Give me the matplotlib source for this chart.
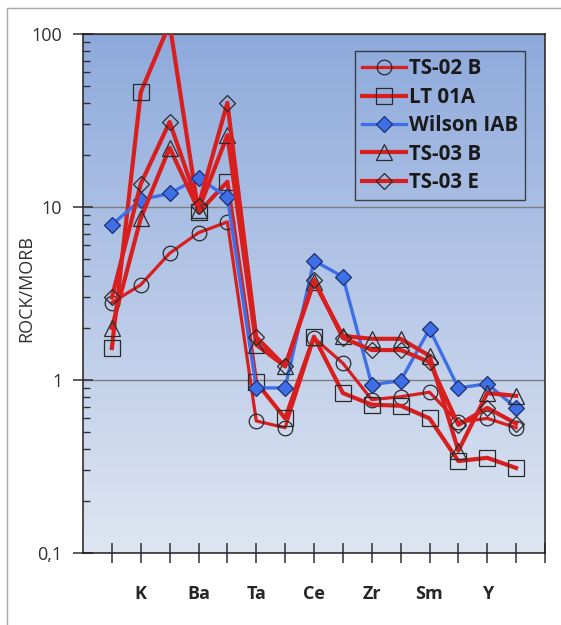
import numpy as np
import matplotlib
matplotlib.use('Agg')
import matplotlib.pyplot as plt
import matplotlib.patches as patches
from matplotlib.colors import LinearSegmentedColormap
from matplotlib.ticker import FixedLocator, LogLocator, NullFormatter

plt.rcParams['font.family'] = ['Open Sans', 'DejaVu Sans']

# MORB-normalised trace elements (Pearce order)
elements = ['Sr', 'K', 'Rb', 'Ba', 'Th', 'Ta', 'Nb', 'Ce', 'P', 'Zr', 'Hf', 'Sm', 'Ti', 'Y', 'Yb']

ts02b = [2.8, 3.55, 5.4, 7.1, 8.2, 0.58, 0.53, 1.75, 1.25, 0.77, 0.80, 0.85, 0.57, 0.60, 0.53]
lt01a = [1.53, 46, 115, 9.3, 14.0, 0.97, 0.60, 1.78, 0.84, 0.72, 0.71, 0.60, 0.34, 0.355, 0.31]
wilson = [7.9, 11.0, 12.0, 14.7, 11.4, 0.90, 0.90, 4.9, 3.95, 0.94, 0.99, 1.97, 0.90, 0.95, 0.69]
ts03b = [2.0, 8.6, 22, 9.6, 26, 1.6, 1.2, 3.7, 1.8, 1.73, 1.73, 1.38, 0.39, 0.84, 0.81]
ts03e = [3.0, 13.6, 31, 10.2, 40, 1.77, 1.2, 3.8, 1.75, 1.49, 1.49, 1.27, 0.55, 0.69, 0.56]

ytick_vals = [0.1, 1, 10, 100]
ytick_labels = ['0,1', '1', '10', '100']

red = '#d91e1e'
blue = '#3f6fe6'
edge = '#2a2a2a'

fig = plt.figure(figsize=(5.61, 6.25), dpi=100)
ax = fig.add_axes([83/561, 1-553/625, 462/561, 519/625])

# outer chart frame
fig.patches.append(patches.Rectangle((7/561, -0.1), 1.2, 1.1 - 8/625, transform=fig.transFigure,
                                     fill=False, ec='#a8a8a8', lw=1.0))

# gradient plot area
cmap = LinearSegmentedColormap.from_list('bg', ['#dfe6f2', '#8eaadc'])
grad = np.linspace(0, 1, 256).reshape(-1, 1)
ax.imshow(grad, extent=[0, 1, 0, 1], transform=ax.transAxes, origin='lower',
          aspect='auto', cmap=cmap, zorder=0)

x = np.arange(1, len(elements) + 1)

ax.plot(x, ts02b, color=red, lw=2.3, marker='o', ms=10.5, mfc='none', mec=edge, mew=0.9,
        label='TS-02 B', zorder=3)
ax.plot(x, lt01a, color=red, lw=3, marker='s', ms=11, mfc='none', mec=edge, mew=0.9,
        label='LT 01A', zorder=3)
ax.plot(x, wilson, color=blue, lw=2.4, marker='D', ms=8.3, mfc=blue, mec='#1c2f6e', mew=0.9,
        label='Wilson IAB', zorder=3)
ax.plot(x, ts03b, color=red, lw=3, marker='^', ms=11, mfc='none', mec=edge, mew=0.9,
        label='TS-03 B', zorder=3)
ax.plot(x, ts03e, color=red, lw=3, marker='D', ms=8.3, mfc='none', mec=edge, mew=0.9,
        label='TS-03 E', zorder=3)

ax.set_yscale('log')
ax.set_ylim(0.1, 100)
ax.set_xlim(0, len(elements) + 1)

ax.yaxis.set_major_locator(FixedLocator(ytick_vals))
ax.set_yticklabels(ytick_labels)
ax.yaxis.set_minor_locator(LogLocator(base=10, subs=np.arange(2, 10)))
ax.yaxis.set_minor_formatter(NullFormatter())
ax.tick_params(axis='y', which='major', direction='inout', length=14, width=1.1,
               color='#303030', labelsize=13, labelcolor='#303030', pad=8)
ax.tick_params(axis='y', which='minor', direction='in', length=5, width=1.0, color='#303030')

ax.set_xticks(list(x) + [len(elements) + 1])
ax.set_xticklabels([e if i % 2 == 1 else '' for i, e in enumerate(elements)] + [''],
                   fontweight='bold')
ax.tick_params(axis='x', which='major', direction='inout', length=14, width=1.1,
               color='#303030', labelsize=13, labelcolor='#262626', pad=16)
ax.tick_params(axis='x', which='minor', bottom=False)

ax.yaxis.grid(True, which='major', color='#7f7f7f', lw=1.0)
ax.set_axisbelow(True)
for s in ax.spines.values():
    s.set_color('#202020')
    s.set_linewidth(1.1)

ax.set_ylabel('ROCK/MORB', fontsize=13, color='#303030')
ax.yaxis.set_label_coords(-0.104, 0.51)

leg = ax.legend(loc='upper right', bbox_to_anchor=(0.957, 0.967), borderaxespad=0,
                frameon=True, fancybox=False, handlelength=2.1, handletextpad=0.15,
                labelspacing=0.36, borderpad=0.35, prop={'weight': 'bold', 'size': 14.8})
leg.get_frame().set_facecolor('none')
leg.get_frame().set_edgecolor('#202020')
leg.get_frame().set_linewidth(1.0)
for t in leg.get_texts():
    t.set_color('#1a1a1a')

fig.savefig('out.png', dpi=100)
